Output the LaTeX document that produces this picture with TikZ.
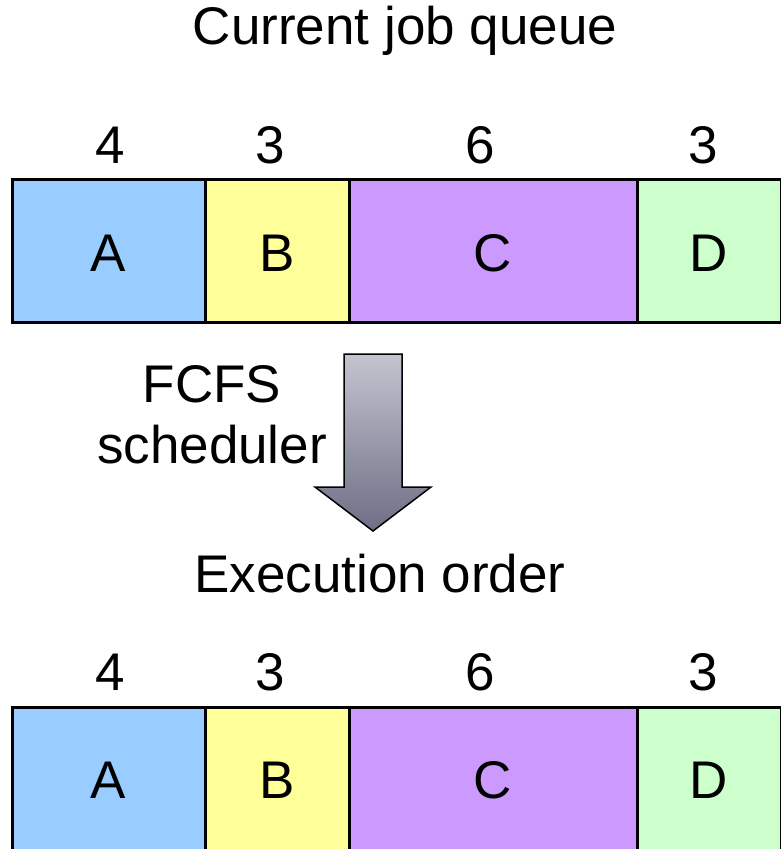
\documentclass[tikz,border=0pt]{standalone}
\usepackage{fontspec}
\setmainfont{Liberation Sans}
\usetikzlibrary{positioning}
\definecolor{ca}{HTML}{99CCFF}
\definecolor{cb}{HTML}{FFFF99}
\definecolor{cc}{HTML}{CC99FF}
\definecolor{cd}{HTML}{CCFFCC}
\definecolor{arrtop}{HTML}{C4C4D0}
\definecolor{arrbot}{HTML}{6E6E86}
\begin{document}
\begin{tikzpicture}[x=1pt,y=-1pt,
  txt/.style={font=\fontsize{53}{61}\selectfont, inner sep=0pt}]
\useasboundingbox (0,0) rectangle (781,849);
\clip (0,0) rectangle (781,849);
\node[txt] (title1) at (405,31) {Current job queue};
% top row
\foreach \nm/\xa/\xb/\col in {A/12/205/ca, B/205/349/cb, C/349/637/cc, D/637/781/cd}{
  \path[fill=\col, draw=black, line width=3pt] (\xa,179) rectangle (\xb,322);
  \node[txt] (t\nm) at ({(\xa+\xb)/2},253) {\nm};
}
\node[txt] (n1) at (110,145) {4};
\node[txt] (n2) at (270,145) {3};
\node[txt] (n3) at (480,145) {6};
\node[txt] (n4) at (703,145) {3};
% arrow
\shade[top color=arrtop, bottom color=arrbot, draw=black, line width=1.5pt]
  (344,354) -- (402,354) -- (402,487) -- (431,487) -- (373,531) -- (315,487) -- (344,487) -- cycle;
\node[txt, align=center] (fcfs) at (212,415) {FCFS\\scheduler};
\node[txt] (title2) at (380,574) {Execution order};
% bottom row
\foreach \nm/\xa/\xb/\col in {A/12/205/ca, B/205/349/cb, C/349/637/cc, D/637/781/cd}{
  \path[fill=\col, draw=black, line width=3pt] (\xa,707) rectangle (\xb,852);
  \node[txt] (b\nm) at ({(\xa+\xb)/2},780) {\nm};
}
\node[txt] (m1) at (110,672) {4};
\node[txt] (m2) at (270,672) {3};
\node[txt] (m3) at (480,672) {6};
\node[txt] (m4) at (703,672) {3};
\end{tikzpicture}
\end{document}
